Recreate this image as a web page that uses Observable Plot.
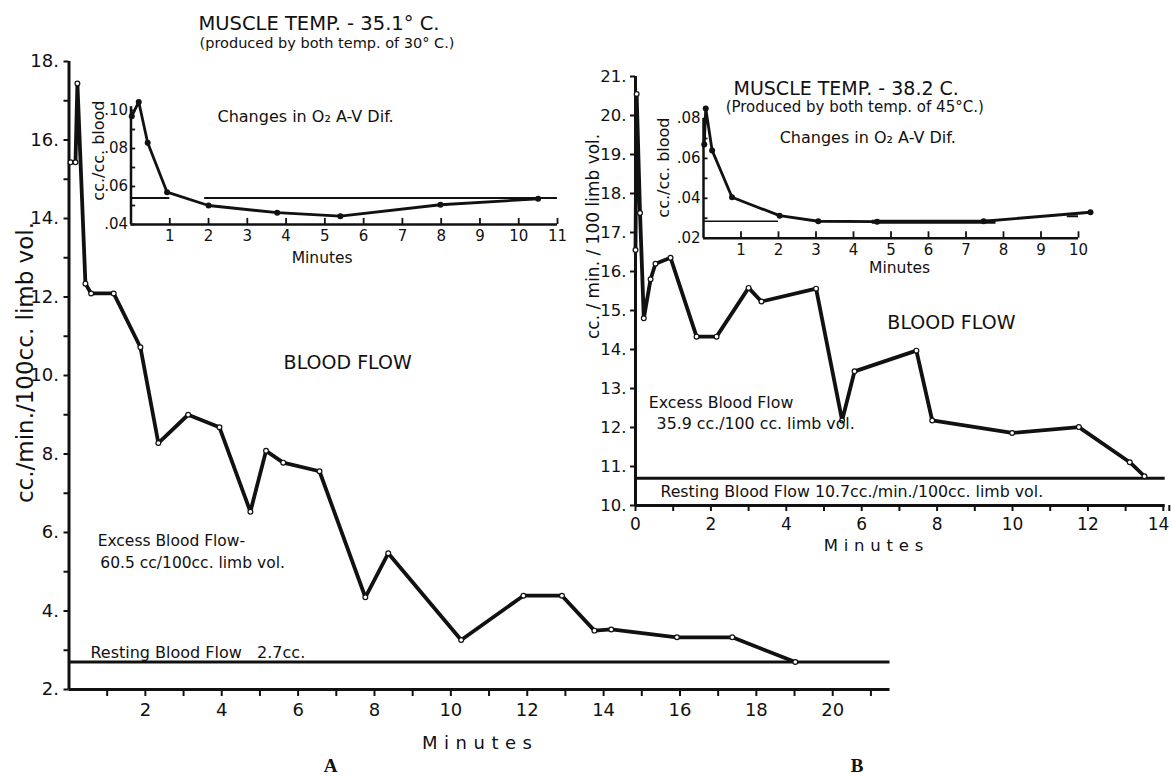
<!DOCTYPE html>
<html>
<head>
<meta charset="utf-8">
<script src="https://cdn.jsdelivr.net/npm/d3@7"></script>
<script src="https://cdn.jsdelivr.net/npm/@observablehq/plot@0.6"></script>
<style>
  body { margin: 0; background: #fff; }
  #wrap { position: relative; width: 1172px; height: 778px; overflow: hidden; background: #fff; }
  #wrap svg { position: absolute; overflow: visible; background: transparent !important; max-width: none !important; }
</style>
</head>
<body>
<div id="wrap"></div>
<script>
// ---------- DATA ----------
// Panel A: blood flow (cc./min./100cc. limb vol.), muscle temp 35.1 C
const flowA_minutes = [0.04, 0.17, 0.22, 0.43, 0.58, 1.17, 1.87, 2.34, 3.12, 3.94, 4.75, 5.16, 5.61, 6.56, 7.76, 8.36, 10.27, 11.9, 12.91, 13.76, 14.2, 15.92, 17.37, 19.02];
const flowA_values  = [15.43, 15.43, 17.44, 12.34, 12.09, 12.09, 10.72, 8.28, 9.0, 8.68, 6.53, 8.08, 7.78, 7.56, 4.35, 5.47, 3.26, 4.39, 4.39, 3.5, 3.53, 3.33, 3.33, 2.7];
const restA = 2.7;
// Panel A inset: O2 A-V difference (cc./cc. blood)
const avA_minutes = [0.02, 0.2, 0.43, 0.93, 2.0, 3.77, 5.4, 7.98, 10.5];
const avA_values  = [0.097, 0.1045, 0.083, 0.057, 0.050, 0.0462, 0.0444, 0.0504, 0.0535];
const avA_rest = 0.054;
const avA_restSegments = [[0.03, 1.0], [1.9, 11]];

// Panel B: blood flow, muscle temp 38.2 C
const flowB_minutes = [0.0, 0.03, 0.12, 0.22, 0.40, 0.53, 0.93, 1.62, 2.15, 3.0, 3.34, 4.79, 5.48, 5.81, 7.45, 7.87, 9.99, 11.76, 13.11, 13.5];
const flowB_values  = [16.55, 20.55, 17.5, 14.8, 15.8, 16.2, 16.35, 14.33, 14.33, 15.58, 15.23, 15.56, 12.18, 13.44, 13.97, 12.18, 11.86, 12.01, 11.11, 10.75];
const restB = 10.7;
// Panel B inset
const avB_minutes = [0.02, 0.06, 0.23, 0.76, 2.03, 3.06, 4.63, 7.47, 10.32];
const avB_values  = [0.067, 0.085, 0.064, 0.0405, 0.0313, 0.0285, 0.0283, 0.0285, 0.033];
const avB_restSegments = [[0, 2.0, 0.0285, 1.6], [4.5, 7.8, 0.0282, 4], [9.7, 10.0, 0.031, 2]];

// Tick values
const ticksA_x = d3.range(1, 22);
const ticksA_y = d3.range(2, 19);
const ticksB_x = d3.range(0, 15);
const ticksB_y = d3.range(10, 22);
const ticksAin_x = d3.range(1, 12);
const ticksAin_y = [0.04, 0.05, 0.06, 0.07, 0.08, 0.09, 0.10];
const ticksBin_x = d3.range(1, 11);
const ticksBin_y = [0.02, 0.03, 0.04, 0.05, 0.06, 0.07, 0.08];

// ---------- HELPERS ----------
const FONT = "'DejaVu Sans', sans-serif";
const INK = "#111";
const rows = (xs, ys) => xs.map((x, i) => ({x, y: ys[i]}));
const label = (s, x, y, o = {}) => Plot.text([s], {x: () => x, y: () => y, text: d => d, textAnchor: "start", fill: INK, fontSize: 15.5, ...o});
const decFmt = d => (Math.round(d * 100) % 2 === 0) ? d.toFixed(2).replace(/^0/, "") : "";

const wrap = document.getElementById("wrap");
function place(svg, left, top) {
  svg.style.left = left + "px";
  svg.style.top = top + "px";
  wrap.appendChild(svg);
  return svg;
}
function spaceText(svg, str, px) {
  svg.querySelectorAll("text").forEach(t => { if (t.textContent === str) t.style.letterSpacing = px + "px"; });
}

// ---------- PANEL A MAIN ----------
const ptsA = rows(flowA_minutes, flowA_values);
const mainA = Plot.plot({
  width: 900, height: 778,
  marginLeft: 68.5, marginRight: 10.5, marginTop: 61, marginBottom: 89,
  style: {background: "transparent", fontFamily: FONT, color: INK},
  x: {domain: [0, 21.5]},
  y: {domain: [2, 18]},
  marks: [
    Plot.axisX({ticks: ticksA_x, tickFormat: d => d % 2 === 0 ? String(d) : "", tickSize: 7, tickPadding: 7, fontSize: 18, strokeWidth: 2, label: null}),
    Plot.axisY({ticks: ticksA_y, tickFormat: d => d % 2 === 0 ? d + "." : "", tickSize: 5, tickPadding: 5, fontSize: 18, strokeWidth: 2, label: null}),
    Plot.ruleX([0], {stroke: INK, strokeWidth: 3}),
    Plot.ruleY([2], {stroke: INK, strokeWidth: 3}),
    Plot.ruleY([restA], {stroke: INK, strokeWidth: 3}),
    Plot.line(ptsA, {x: "x", y: "y", stroke: INK, strokeWidth: 3.8, strokeLinejoin: "round"}),
    Plot.dot(ptsA, {x: "x", y: "y", r: 2.4, fill: "white", stroke: INK, strokeWidth: 1.2}),
    label("MUSCLE TEMP. - 35.1° C.", 3.39, 18.97, {fontSize: 19.5}),
    label("(produced by both temp. of 30° C.)", 3.42, 18.46, {fontSize: 14.5}),
    label("BLOOD FLOW", 5.62, 10.33, {fontSize: 19}),
    label("Excess Blood Flow-", 0.75, 5.77, {fontSize: 15.5}),
    label("60.5 cc/100cc. limb vol.", 0.82, 5.21, {fontSize: 15.5}),
    label("Resting Blood Flow\u00a0\u00a0\u00a02.7cc.", 0.56, 2.94, {fontSize: 16}),
    label("Minutes", 10.77, 0.62, {fontSize: 18, textAnchor: "middle"}),
    label("cc./min./100cc. limb vol.", -1.14, 10.33, {fontSize: 23, textAnchor: "middle", rotate: -90}),
    label("A", 6.85, 0.05, {fontSize: 19, textAnchor: "middle", fontFamily: "'Liberation Serif', serif", fontWeight: "bold"}),
    label("B", 20.64, 0.05, {fontSize: 19, textAnchor: "middle", fontFamily: "'Liberation Serif', serif", fontWeight: "bold"})
  ]
});
spaceText(mainA, "Minutes", 6.5);
place(mainA, 0, 0);

// ---------- PANEL A INSET ----------
const ptsAin = rows(avA_minutes, avA_values);
const insetA = Plot.plot({
  width: 600, height: 280,
  marginLeft: 130.5, marginRight: 43, marginTop: 106.2, marginBottom: 56,
  style: {background: "transparent", fontFamily: FONT, color: INK},
  x: {domain: [0, 11]},
  y: {domain: [0.04, 0.102]},
  marks: [
    Plot.axisX({ticks: ticksAin_x, tickFormat: d => String(d), tickSize: 0, tickPadding: 6, fontSize: 15, label: null}),
    Plot.axisY({ticks: ticksAin_y, tickFormat: decFmt, tickSize: 0, tickPadding: 3, fontSize: 15, label: null}),
    Plot.ruleX(ticksAin_x, {x: d => d, y1: 0.04, y2: 0.0432, stroke: INK, strokeWidth: 1.8}),
    Plot.ruleY(ticksAin_y, {y: d => d, x1: 0, x2: 0.12, stroke: INK, strokeWidth: 1.8}),
    Plot.ruleX([0], {stroke: INK, strokeWidth: 2.5}),
    Plot.ruleY([0.04], {stroke: INK, strokeWidth: 2.5}),
    Plot.ruleY(avA_restSegments, {y: () => avA_rest, x1: d => d[0], x2: d => d[1], stroke: INK, strokeWidth: 2}),
    Plot.line(ptsAin, {x: "x", y: "y", stroke: INK, strokeWidth: 2.8, strokeLinejoin: "round"}),
    Plot.dot(ptsAin, {x: "x", y: "y", r: 3, fill: INK}),
    label("Changes in O\u2082 A-V Dif.", 2.23, 0.0968, {fontSize: 16}),
    label("Minutes", 4.93, 0.0226, {fontSize: 15.5, textAnchor: "middle"}),
    label("cc./cc. blood", -0.84, 0.0789, {fontSize: 16, textAnchor: "middle", rotate: -90})
  ]
});
place(insetA, 0, 0);

// ---------- PANEL B MAIN ----------
const ptsB = rows(flowB_minutes, flowB_values);
const lastB = ticksB_x[ticksB_x.length - 1];
const mainB = Plot.plot({
  width: 592, height: 600,
  marginLeft: 55, marginRight: 7.3, marginTop: 76, marginBottom: 95,
  style: {background: "transparent", fontFamily: FONT, color: INK},
  x: {domain: [0, 14.05]},
  y: {domain: [10, 21]},
  marks: [
    Plot.axisX({ticks: ticksB_x, tickFormat: d => (d % 2 === 0 && d !== lastB) ? String(d) : "", tickSize: 6, tickPadding: 6, fontSize: 17, strokeWidth: 2, label: null}),
    Plot.axisX({ticks: [lastB], tickFormat: d => String(d), tickSize: 6, tickPadding: 6, fontSize: 17, strokeWidth: 2, textAnchor: "end", dx: 6, label: null}),
    Plot.axisY({ticks: ticksB_y, tickFormat: d => d + ".", tickSize: 5, tickPadding: 4, fontSize: 16.5, strokeWidth: 2, label: null}),
    Plot.ruleX([0], {stroke: INK, strokeWidth: 3}),
    Plot.ruleY([10], {stroke: INK, strokeWidth: 3}),
    Plot.ruleY([restB], {stroke: INK, strokeWidth: 3}),
    Plot.line(ptsB, {x: "x", y: "y", stroke: INK, strokeWidth: 3.8, strokeLinejoin: "round"}),
    Plot.dot(ptsB, {x: "x", y: "y", r: 2.4, fill: "white", stroke: INK, strokeWidth: 1.2}),
    label("BLOOD FLOW", 6.68, 14.67, {fontSize: 19}),
    label("Excess Blood Flow", 0.35, 12.62, {fontSize: 15.8}),
    label("35.9 cc./100 cc. limb vol.", 0.56, 12.08, {fontSize: 15.8}),
    label("Resting Blood Flow 10.7cc./min./100cc. limb vol.", 0.66, 10.36, {fontSize: 15.8}),
    label("Minutes", 6.39, 8.97, {fontSize: 16.5, textAnchor: "middle"}),
    label("cc. / min. / 100 limb vol.", -1.11, 16.9, {fontSize: 17, textAnchor: "middle", rotate: -90})
  ]
});
spaceText(mainB, "Minutes", 5.8);
place(mainB, 580, 0);

// ---------- PANEL B INSET ----------
const ptsBin = rows(avB_minutes, avB_values);
const insetB = Plot.plot({
  width: 592, height: 300,
  marginLeft: 123, marginRight: 94, marginTop: 118, marginBottom: 62.3,
  style: {background: "transparent", fontFamily: FONT, color: INK},
  x: {domain: [0, 10]},
  y: {domain: [0.02, 0.08]},
  marks: [
    Plot.axisX({ticks: ticksBin_x, tickFormat: d => String(d), tickSize: 0, tickPadding: 6, fontSize: 15, label: null}),
    Plot.axisY({ticks: ticksBin_y, tickFormat: decFmt, tickSize: 0, tickPadding: 3, fontSize: 15, label: null}),
    Plot.ruleX(ticksBin_x, {x: d => d, y1: 0.02, y2: 0.0232, stroke: INK, strokeWidth: 1.8}),
    Plot.ruleY(ticksBin_y, {y: d => d, x1: 0, x2: 0.12, stroke: INK, strokeWidth: 1.8}),
    Plot.ruleX([0], {stroke: INK, strokeWidth: 2.5}),
    Plot.ruleY([0.02], {stroke: INK, strokeWidth: 2.5}),
    Plot.ruleY(avB_restSegments, {y: d => d[2], x1: d => d[0], x2: d => d[1], stroke: INK, strokeWidth: d => d[3]}),
    Plot.line(ptsBin, {x: "x", y: "y", stroke: INK, strokeWidth: 2.8, strokeLinejoin: "round"}),
    Plot.dot(ptsBin, {x: "x", y: "y", r: 3, fill: INK}),
    label("MUSCLE TEMP. - 38.2 C.", 0.8, 0.095, {fontSize: 19}),
    label("(Produced by both temp. of 45°C.)", 0.59, 0.0855, {fontSize: 15}),
    label("Changes in O\u2082 A-V Dif.", 2.03, 0.0705, {fontSize: 16}),
    label("Minutes", 5.23, 0.0048, {fontSize: 15.5, textAnchor: "middle"}),
    label("cc./cc. blood", -1.07, 0.0554, {fontSize: 16, textAnchor: "middle", rotate: -90})
  ]
});
place(insetB, 580, 0);
</script>
</body>
</html>
